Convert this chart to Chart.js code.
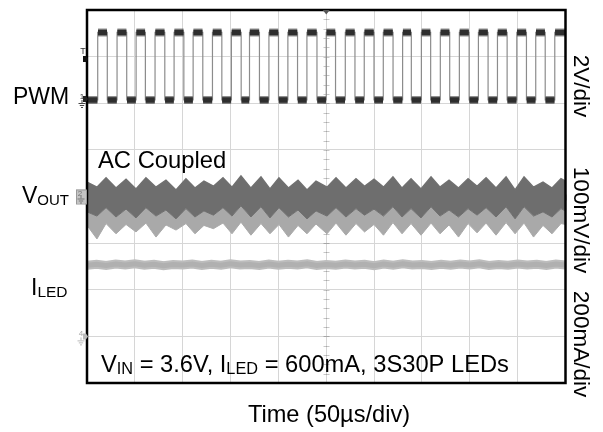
<!DOCTYPE html>
<html><head><meta charset="utf-8">
<script src="https://cdn.jsdelivr.net/npm/chart.js@4.4.0/dist/chart.umd.min.js"></script>
<style>html,body{margin:0;padding:0;background:#fff;}#wrap{width:603px;height:432px;position:relative;}</style>
</head><body><div id="wrap"><canvas id="c"></canvas></div>
<script>
// ---- Time base: 10 divisions x 50 us ----
const timeMax = 500;          // us
const timeStep = 50;          // us per division
const vDivs = 8;              // vertical divisions

// ---- PWM (CH1, 2V/div) : edge times in us, levels in V ----
const pwmRise = [11.2, 31.4, 51.3, 71.1, 91.0, 110.9, 131.1, 150.9, 169.8, 190.1, 209.9, 229.8, 250.0, 269.9, 289.7, 309.6, 329.8, 349.4, 369.2, 389.1, 409.0, 428.9, 449.1, 468.9, 488.8];
const pwmFall = [21.2, 41.5, 61.0, 81.3, 101.2, 121.0, 140.9, 161.1, 180.2, 200.1, 220.0, 240.3, 259.7, 280.0, 299.9, 319.8, 338.9, 359.1, 379.0, 399.3, 419.1, 439.0, 459.2, 478.8];
const pwmLow = 0.0;
const pwmHigh = 2.9;
const pwmTrig = 1.76;

// ---- VOUT (CH2, 100mV/div, AC coupled): envelope vertices, mV ----
const voutT = [0, 10.4, 19.9, 30.3, 40.8, 51.2, 61.6, 72.1, 82.5, 93.0, 103.4, 112.8, 122.2, 132.1, 142.1, 151.5, 160.9, 171.3, 181.8, 191.2, 200.6, 210.5, 220.5, 229.9, 239.3, 250.8, 260.2, 270.6, 281.1, 290.0, 299.9, 309.8, 319.7, 329.2, 338.6, 349.0, 359.5, 368.9, 378.3, 388.2, 398.2, 407.6, 417.0, 427.4, 437.9, 447.3, 456.7, 466.6, 476.5, 485.9, 495.3, 500];
const voutTop = [31, 20,40, 18,37, 16,40, 20,35, 14,38, 18,33, 22,40, 20,44, 18,42, 16,40, 18,35, 14,33, 20,40, 18,38, 22,37, 20,42, 18,38, 16,42, 20,35, 18,38, 22,40, 18,42, 14,42, 20,31, 18,38, 33];
const voutMid = [-33, -42,-24, -44,-27, -46,-24, -42,-29, -48,-26, -44,-31, -40,-24, -42,-20, -44,-22, -46,-24, -44,-29, -48,-31, -42,-24, -44,-26, -40,-27, -42,-22, -44,-26, -46,-22, -42,-29, -44,-26, -40,-24, -44,-22, -48,-22, -42,-33, -44,-26, -31];
const voutLow = [-62, -91,-58, -80,-60, -76,-57, -87,-61, -72,-58, -80,-62, -69,-57, -80,-55, -83,-58, -80,-60, -87,-62, -80,-59, -80,-57, -83,-58, -76,-60, -83,-56, -80,-58, -83,-57, -80,-61, -87,-58, -78,-57, -83,-56, -80,-57, -87,-62, -80,-58, -60];

// ---- ILED (CH4, 200mA/div): mA every 10 us ----
const iledT = [0,10,20,30,40,50,60,70,80,90,100,110,120,130,140,150,160,170,180,190,200,210,220,230,240,250,260,270,280,290,300,310,320,330,340,350,360,370,380,390,400,410,420,430,440,450,460,470,480,490,500];
const iledMA = [305,309,304,310,306,311,305,309,303,308, 306,310,304,309,305,311,306,308,304,310, 305,309,306,311,304,308,305,310,306,309, 303,310,305,311,306,308,304,309,305,310, 306,311,304,308,305,310,306,309,304,310, 306];

// channel ground positions (in divisions from bottom) and scale per division
const ch1 = {offset: 6.07, perDiv: 2};
const ch2 = {offset: 4.0, perDiv: 100};
const ch4 = {offset: 1.0, perDiv: 200};
const toDiv = (v, ch) => ch.offset + v / ch.perDiv;

// ---- build PWM waveform ----
const edges = [];
pwmRise.forEach(t => edges.push({t, lvl: pwmHigh}));
pwmFall.forEach(t => edges.push({t, lvl: pwmLow}));
edges.sort((a,b) => a.t - b.t);
const sq = [];
const segs = [];
let cur = pwmLow, tPrev = 0;
sq.push({x: 0, y: toDiv(cur, ch1)});
edges.forEach(e => {
  segs.push({x: tPrev + 0.3, y: toDiv(cur, ch1)}, {x: e.t - 0.3, y: toDiv(cur, ch1)}, {x: e.t, y: null});
  sq.push({x: e.t, y: toDiv(cur, ch1)}, {x: e.t, y: toDiv(e.lvl, ch1)});
  cur = e.lvl; tPrev = e.t;
});
segs.push({x: tPrev + 0.3, y: toDiv(cur, ch1)}, {x: timeMax, y: toDiv(cur, ch1)});
sq.push({x: timeMax, y: toDiv(cur, ch1)});

const vTop = voutT.map((t,i) => ({x: t, y: toDiv(voutTop[i], ch2)}));
const vMid = voutT.map((t,i) => ({x: t, y: toDiv(voutMid[i], ch2)}));
const vLow = voutT.map((t,i) => ({x: t, y: toDiv(voutLow[i], ch2)}));
const iled = iledT.map((t,i) => ({x: t, y: toDiv(iledMA[i], ch4)}));

const FONT = '"Liberation Sans", Arial, sans-serif';
function drawParts(ctx, parts, x, y, size, subSize) {
  ctx.textAlign = 'left'; ctx.textBaseline = 'alphabetic';
  for (const [t, sub] of parts) {
    ctx.font = (sub ? subSize : size) + 'px ' + FONT;
    ctx.fillText(t, x, y + (sub ? 2 : 0));
    x += ctx.measureText(t).width;
  }
}
function ground(ctx, x, y, color) {
  ctx.strokeStyle = color; ctx.lineWidth = 1;
  ctx.beginPath();
  ctx.moveTo(x, y); ctx.lineTo(x, y + 3);
  ctx.moveTo(x - 3.5, y + 3.5); ctx.lineTo(x + 3.5, y + 3.5);
  ctx.moveTo(x - 2.2, y + 5.5); ctx.lineTo(x + 2.2, y + 5.5);
  ctx.moveTo(x - 1, y + 7.5); ctx.lineTo(x + 1, y + 7.5);
  ctx.stroke();
}
function arrowR(ctx, x, y, color) {
  ctx.fillStyle = color;
  ctx.beginPath(); ctx.moveTo(x - 3, y - 3); ctx.lineTo(x, y - 3); ctx.lineTo(x + 2, y); ctx.lineTo(x, y + 3); ctx.lineTo(x - 3, y + 3); ctx.closePath(); ctx.fill();
}

const decor = {
  id: 'decor',
  beforeDatasetsDraw(chart) {
    const {ctx, scales: {x, y}} = chart;
    ctx.save();
    ctx.strokeStyle = 'rgba(0,0,0,0.22)'; ctx.lineWidth = 1;
    const cx = Math.round(x.getPixelForValue(timeMax / 2)) + 0.5;
    const cy = Math.round(y.getPixelForValue(vDivs / 2)) + 0.5;
    ctx.beginPath();
    for (let v = 0; v <= vDivs + 1e-6; v += 0.2) {
      const py = Math.round(y.getPixelForValue(v)) + 0.5;
      ctx.moveTo(cx - 3, py); ctx.lineTo(cx + 3, py);
    }
    for (let t = 0; t <= timeMax + 1e-6; t += timeStep / 5) {
      const px = Math.round(x.getPixelForValue(t)) + 0.5;
      ctx.moveTo(px, cy - 3); ctx.lineTo(px, cy + 3);
    }
    ctx.stroke();
    ctx.restore();
  },
  afterDraw(chart) {
    const {ctx, chartArea: a, scales: {x, y}} = chart;
    ctx.save();
    // frame
    ctx.strokeStyle = '#000'; ctx.lineWidth = 2.5;
    ctx.strokeRect(a.left, a.top, a.right - a.left, a.bottom - a.top);
    // trigger position marker (top centre)
    const cx = x.getPixelForValue(timeMax / 2);
    ctx.fillStyle = '#555';
    ctx.beginPath(); ctx.moveTo(cx - 3.5, a.top); ctx.lineTo(cx + 3.5, a.top); ctx.lineTo(cx, a.top + 4.5); ctx.closePath(); ctx.fill();
    // trigger level marker
    const ty = y.getPixelForValue(toDiv(pwmTrig, ch1));
    arrowR(ctx, a.left - 1, ty, '#111');
    ctx.fillStyle = '#333'; ctx.font = '9px ' + FONT; ctx.textAlign = 'center';
    ctx.fillText('T', a.left - 4, ty - 5);
    // CH1 marker
    const y1 = y.getPixelForValue(toDiv(0, ch1));
    arrowR(ctx, a.left - 1, y1 - 1, '#222');
    ctx.fillStyle = '#333'; ctx.font = '8px ' + FONT; ctx.fillText('1', a.left - 5, y1 - 1);
    ground(ctx, a.left - 5, y1, '#444');
    // CH2 marker
    const y2 = y.getPixelForValue(toDiv(0, ch2));
    ctx.fillStyle = '#c4c4c4'; ctx.fillRect(a.left - 11, y2 - 7, 10, 14);
    ctx.strokeStyle = '#999'; ctx.lineWidth = 1; ctx.strokeRect(a.left - 11 + 0.5, y2 - 7 + 0.5, 10, 14);
    ctx.fillStyle = '#777'; ctx.font = '8px ' + FONT; ctx.fillText('2', a.left - 7, y2 - 1);
    ground(ctx, a.left - 6, y2 - 1, '#777');
    // CH4 marker
    const y4 = y.getPixelForValue(toDiv(0, ch4));
    arrowR(ctx, a.left - 1, y4, '#bbb');
    ctx.fillStyle = '#aaa'; ctx.font = '8px ' + FONT; ctx.fillText('4', a.left - 6, y4);
    ground(ctx, a.left - 6, y4 + 1, '#bbb');

    // texts
    ctx.fillStyle = '#000';
    drawParts(ctx, [['PWM', false]], 13, 104, 23, 15);
    drawParts(ctx, [['AC Coupled', false]], 98, 168, 23.8, 15);
    drawParts(ctx, [['V', false], ['OUT', true]], 22, 203, 23, 15);
    drawParts(ctx, [['I', false], ['LED', true]], 31, 295, 23, 15.5);
    drawParts(ctx, [['V', false], ['IN', true], [' = 3.6V, I', false], ['LED', true], [' = 600mA, 3S30P LEDs', false]], 101, 372, 23.7, 16.3);
    ctx.font = '23.6px ' + FONT; ctx.textAlign = 'center'; ctx.textBaseline = 'alphabetic';
    ctx.fillText('Time (50\u00b5s/div)', 329, 422);
    const rot = (t, cyy) => {
      ctx.save(); ctx.translate(574, cyy); ctx.rotate(Math.PI / 2);
      ctx.font = '22.5px ' + FONT; ctx.textAlign = 'center'; ctx.textBaseline = 'alphabetic';
      ctx.fillText(t, 0, 0); ctx.restore();
    };
    rot('2V/div', 86);
    rot('100mV/div', 220);
    rot('200mA/div', 344);
    ctx.restore();
  }
};

const ln = (data, color, width, order, extra) => Object.assign({
  data, borderColor: color, borderWidth: width, pointRadius: 0, tension: 0,
  fill: false, order, spanGaps: false, borderCapStyle: 'butt'
}, extra || {});

new Chart(document.getElementById('c'), {
  type: 'line',
  data: {
    datasets: [
      ln(vTop, '#707070', 1.5, 3),
      ln(vMid, '#707070', 1, 4, {fill: '-1', backgroundColor: '#6e6e6e'}),
      ln(vLow, '#aaaaaa', 1, 5, {fill: '-1', backgroundColor: '#a9a9a9'}),
      ln(iled, '#bdbdbd', 9, 7),
      ln(iled, '#b0b0b0', 5, 6),
      ln(segs, 'rgba(70,70,70,0.6)', 8, 9),
      ln(segs, '#2e2e2e', 5.5, 8),
      ln(sq, '#8c8c8c', 1.2, 10)
    ]
  },
  options: {
    responsive: true, maintainAspectRatio: false, animation: false,
    layout: {padding: {left: 87, right: 37.5, top: 10, bottom: 49}},
    plugins: {legend: {display: false}, tooltip: {enabled: false}},
    scales: {
      x: {type: 'linear', min: 0, max: timeMax,
          ticks: {display: false, stepSize: timeStep},
          grid: {color: '#d6d6d6', drawTicks: false, lineWidth: 1},
          border: {display: false}},
      y: {type: 'linear', min: 0, max: vDivs,
          ticks: {display: false, stepSize: 1},
          grid: {color: '#d6d6d6', drawTicks: false, lineWidth: 1},
          border: {display: false}}
    }
  },
  plugins: [decor]
});
</script>
</body></html>
